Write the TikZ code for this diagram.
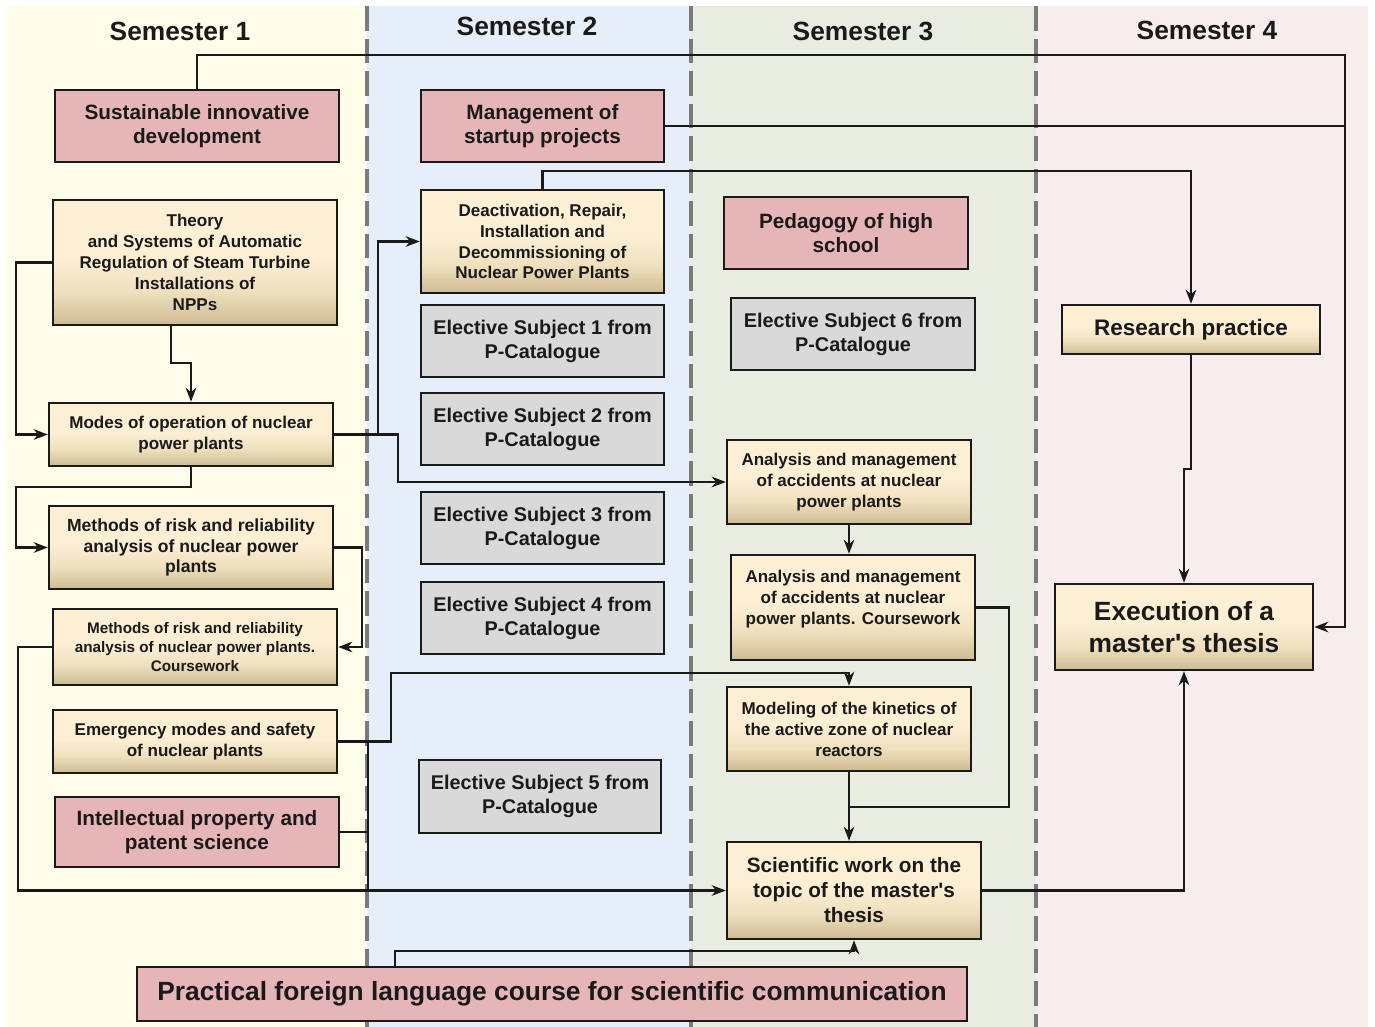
\documentclass[tikz,border=0pt]{standalone}
\usepackage{fontspec}
\setmainfont{Liberation Sans}[Ligatures=TeXOff]
\usetikzlibrary{arrows.meta}

\definecolor{semone}{HTML}{FEFDEA}
\definecolor{semtwo}{HTML}{E6EEF9}
\definecolor{semthree}{HTML}{E9EDE1}
\definecolor{semfour}{HTML}{F7EDED}
\definecolor{pinkfill}{HTML}{E6B5B7}
\definecolor{greyfill}{HTML}{D9D9D9}
\definecolor{tantop}{HTML}{FCEFD4}
\definecolor{tanmid}{HTML}{EEDFBD}
\definecolor{tanbot}{HTML}{CDBB92}
\definecolor{txt}{HTML}{1A1A1A}
\definecolor{divgrey}{HTML}{7A7A7A}

\pgfdeclareverticalshading{tanshade}{100bp}{color(0bp)=(tanbot); color(25bp)=(tanbot); color(38bp)=(tanmid); color(52bp)=(tantop); color(100bp)=(tantop)}

\begin{document}
\begin{tikzpicture}[x=0.02cm, y=0.02cm,
	box/.style={draw=txt, line width=1.4pt, align=center, inner sep=2pt, text=txt},
	pinkbox/.style={box, fill=pinkfill, font=\bfseries\fontsize{11.8}{13.6}\selectfont},
	greybox/.style={box, fill=greyfill, minimum width=4.86cm, minimum height=1.44cm, font=\bfseries\fontsize{11.3}{13.6}\selectfont},
	tanbox/.style={box, shading=tanshade, font=\bfseries\fontsize{9.7}{11.9}\selectfont},
	semhead/.style={text=txt, font=\bfseries\fontsize{15}{18}\selectfont},
	link/.style={draw=txt, line width=1.25pt},
	arr/.style={link, -{Stealth[length=8pt, width=6pt, inset=2.5pt]}},
	divider/.style={draw=divgrey, line width=2.2pt, dash pattern=on 14pt off 4.5pt}]

	% page and semester columns

	\useasboundingbox (0,0) rectangle (1375,-1027);
	\fill[white] (0,0) rectangle (1375,-1027);
	\fill[semone] (5,-6) rectangle (367,-1027);
	\fill[semtwo] (367,-6) rectangle (691,-1027);
	\fill[semthree] (691,-6) rectangle (1036,-1027);
	\fill[semfour] (1036,-6) rectangle (1368,-1027);
	\foreach \xd in {367,691,1036}
		\draw[divider] (\xd,-6) -- (\xd,-1027);

	\node[semhead] (head1) at (180,-31) {Semester 1};
	\node[semhead] (head2) at (527,-26) {Semester 2};
	\node[semhead] (head3) at (863,-31) {Semester 3};
	\node[semhead] (head4) at (1207,-30) {Semester 4};

	% semester 1

	\node[pinkbox, minimum width=5.68cm, minimum height=1.44cm] (sid) at (197,-126) {Sustainable innovative\\development};
	\node[tanbox, minimum width=5.68cm, minimum height=2.5cm] (theory) at (195,-262.5) {Theory\\and Systems of Automatic\\Regulation of Steam Turbine\\Installations of\\NPPs};
	\node[tanbox, minimum width=5.68cm, minimum height=1.26cm] (modes) at (191,-434.5) {Modes of operation of nuclear\\power plants};
	\node[tanbox, minimum width=5.68cm, minimum height=1.66cm, font=\bfseries\fontsize{10}{11.9}\selectfont] (risk) at (191,-547.5) {Methods of risk and reliability\\analysis of nuclear power\\plants};
	\node[tanbox, minimum width=5.68cm, minimum height=1.52cm, font=\bfseries\fontsize{8.7}{10.8}\selectfont] (riskcw) at (195,-647) {Methods of risk and reliability\\analysis of nuclear power plants.\\Coursework};
	\node[tanbox, minimum width=5.68cm, minimum height=1.26cm] (emerg) at (195,-741.5) {Emergency modes and safety\\of nuclear plants};
	\node[pinkbox, minimum width=5.68cm, minimum height=1.4cm] (ipps) at (197,-832) {Intellectual property and\\patent science};

	% semester 2

	\node[pinkbox, minimum width=4.86cm, minimum height=1.44cm] (msp) at (542.5,-126) {Management of\\startup projects};
	\node[tanbox, minimum width=4.86cm, minimum height=2.06cm] (drid) at (542.5,-241.5) {Deactivation, Repair,\\Installation and\\Decommissioning of\\Nuclear Power Plants};
	\node[greybox] (es1) at (542.5,-341) {Elective Subject 1 from\\P-Catalogue};
	\node[greybox] (es2) at (542.5,-429) {Elective Subject 2 from\\P-Catalogue};
	\node[greybox] (es3) at (542.5,-528) {Elective Subject 3 from\\P-Catalogue};
	\node[greybox] (es4) at (542.5,-618) {Elective Subject 4 from\\P-Catalogue};
	\node[greybox, minimum width=4.84cm, minimum height=1.46cm] (es5) at (540,-796.5) {Elective Subject 5 from\\P-Catalogue};

	% semester 3

	\node[pinkbox, minimum width=4.88cm, minimum height=1.44cm] (ped) at (846,-233) {Pedagogy of high\\school};
	\node[greybox, minimum width=4.88cm] (es6) at (853,-334) {Elective Subject 6 from\\P-Catalogue};
	\node[tanbox, minimum width=4.88cm, minimum height=1.68cm] (aam) at (849,-482) {Analysis and management\\of accidents at nuclear\\power plants};
	\node[tanbox, minimum width=4.88cm, minimum height=2.1cm] (aamcw) at (853,-607.5) {Analysis and management\\of accidents at nuclear\\power plants. Coursework\\ \mbox{}};
	\node[tanbox, minimum width=4.88cm, minimum height=1.68cm] (mod) at (849,-729) {Modeling of the kinetics of\\the active zone of nuclear\\reactors};
	\node[tanbox, minimum width=5.08cm, minimum height=1.94cm, font=\bfseries\fontsize{11.8}{14.2}\selectfont] (sci) at (854,-890.5) {Scientific work on the\\topic of the master's\\thesis};

	% semester 4

	\node[tanbox, minimum width=5.16cm, minimum height=0.98cm, font=\bfseries\fontsize{12.8}{15}\selectfont] (rp) at (1191,-329.5) {Research practice};
	\node[tanbox, minimum width=5.16cm, minimum height=1.72cm, font=\bfseries\fontsize{15}{18}\selectfont] (emt) at (1184,-627) {Execution of a\\master's thesis};

	\node[pinkbox, minimum width=16.6cm, minimum height=1.08cm, font=\bfseries\fontsize{15}{18}\selectfont] (pfl) at (552,-994) {Practical foreign language course for scientific communication};

	% connections

	\coordinate (rbus) at (1345,-55);
	\draw[arr] (sid.north) |- (rbus) |- (emt.east);
	\draw[link] (msp.east) -- (msp.east -| rbus);
	\draw[arr] (drid.north) -- ++(0,18) -| (rp.north);

	\draw[arr] (theory.west) -- ++(-36,0) |- (modes.west);
	\draw[arr] (theory.south) ++(-24,0) -- ++(0,-37) -| (modes.north);
	\draw[arr] (modes.east) -- ++(64,0) |- (aam.west);
	\draw[arr] (modes.east) ++(44,0) |- (drid.west);
	\draw[arr] (modes.south) -- ++(0,-20) -- ++(-175,0) |- (risk.west);
	\draw[arr] (risk.east) -- ++(28,0) |- (riskcw.east);
	\draw[arr] (riskcw.west) -- ++(-34,0) |- (sci.west);
	\draw[arr] (emerg.east) -- ++(53,0) -- ++(0,68.5) -| (mod.north);
	\draw[link] (emerg.east) ++(30,0) -- ++(0,-149);
	\draw[link] (ipps.east) -- ++(28,0);

	\draw[arr] (aam.south) -- (aam.south |- aamcw.north);
	\draw[link] (mod.south) -- ++(0,-35) coordinate (mjoin) -- ++(160,0) |- (aamcw.east);
	\draw[arr] (mjoin) -- (mjoin |- sci.north);
	\draw[arr] (sci.east) -| (emt.south);
	\draw[arr] (rp.south) -- ++(0,-114) -| (emt.north);
	\draw[arr] (pfl.north) ++(-157,0) -- ++(0,15) -| (sci.south);

\end{tikzpicture}
\end{document}
